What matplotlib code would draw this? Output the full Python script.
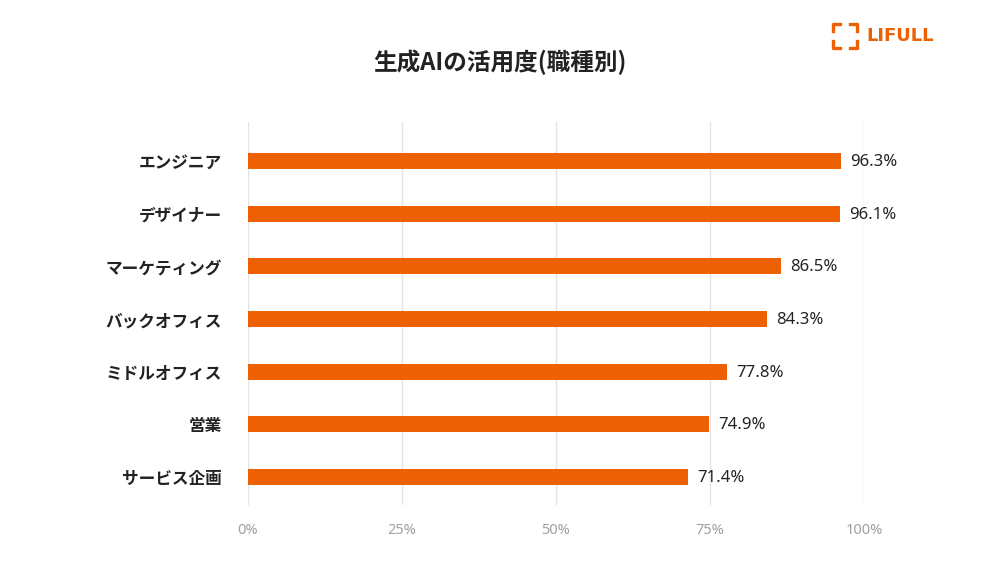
import matplotlib as mpl
import matplotlib.pyplot as plt
from matplotlib.lines import Line2D

mpl.rcParams['font.family'] = ['Noto Sans CJK JP', 'DejaVu Sans']

categories = ["エンジニア", "デザイナー", "マーケティング", "バックオフィス", "ミドルオフィス", "営業", "サービス企画"]
values = [96.3, 96.1, 86.5, 84.3, 77.8, 74.9, 71.4]
xticks = [0, 25, 50, 75, 100]
xtick_labels = ["0%", "25%", "50%", "75%", "100%"]

orange = "#EE6004"

fig = plt.figure(figsize=(10, 5.62), dpi=100)
ax = fig.add_axes([0.248, 0.1014, 0.616, 0.6816])

ypos = list(range(len(categories)))
ax.barh(ypos, values, height=0.30, color=orange, zorder=3)
for y, v in zip(ypos, values):
    ax.text(v + 1.5, y + 0.02, "%.1f%%" % v, va="center", ha="left", fontsize=12,
            color="#222222", zorder=4, family="Noto Sans")

ax.set_xlim(0, 100)
ax.set_ylim(6.53, -0.74)
ax.set_xticks(xticks)
ax.set_xticklabels(xtick_labels, color="#a0a0a0", fontsize=10.5, family="Noto Sans")
ax.set_yticks(ypos)
ax.set_yticklabels(categories, fontsize=12, fontweight="bold", color="#222222")
ax.tick_params(axis="both", length=0)
ax.tick_params(axis="x", pad=13)
ax.tick_params(axis="y", pad=19)
ax.grid(axis="x", color="#e4e4e4", linewidth=1, zorder=0)
for s in ax.spines.values():
    s.set_visible(False)

fig.text(0.5, 0.889, "生成AIの活用度(職種別)", ha="center", va="center", fontsize=17, fontweight="bold", color="#222222")

# logo
lw = 2.4
x0, x1, y0, y1 = 0.833, 0.857, 1 - 48 / 562, 1 - 24 / 562
dx, dy = 0.007, 0.013
for xs, ys in [([x0, x0, x0 + dx], [y1 - dy, y1, y1]),
               ([x1 - dx, x1, x1], [y1, y1, y1 - dy]),
               ([x0, x0, x0 + dx], [y0 + dy, y0, y0]),
               ([x1 - dx, x1, x1], [y0, y0, y0 + dy])]:
    fig.add_artist(Line2D(xs, ys, color=orange, linewidth=lw, solid_capstyle="projecting"))
fig.text(0.866, (y0 + y1) / 2, "LIFULL", ha="left", va="center", fontsize=13,
         fontweight="bold", color=orange, family="DejaVu Sans")

fig.savefig("out.png", dpi=100, facecolor="white")
